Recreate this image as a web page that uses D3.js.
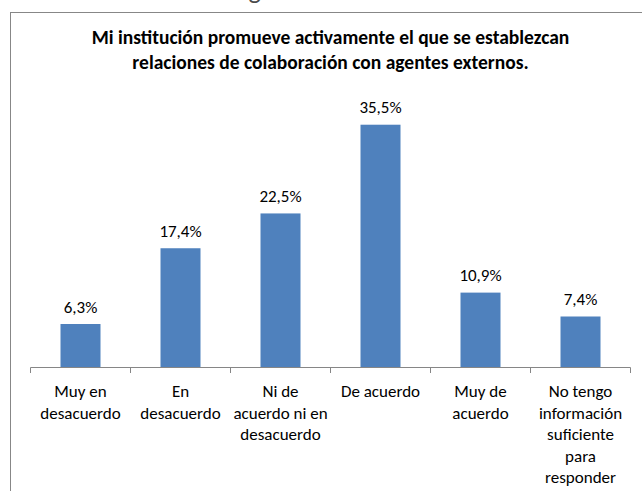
<!DOCTYPE html>
<html><head><meta charset="utf-8">
<script src="https://cdn.jsdelivr.net/npm/d3@7"></script>
<style>
body{margin:0;background:#fff;}
svg{display:block;font-family:Carlito,Lato,"Noto Sans",sans-serif;}
</style></head>
<body><svg id="c" width="642" height="491"></svg>
<script>
const categories = [
  ["Muy en","desacuerdo"],
  ["En","desacuerdo"],
  ["Ni de","acuerdo ni en","desacuerdo"],
  ["De acuerdo"],
  ["Muy de","acuerdo"],
  ["No tengo","información","suficiente","para","responder"]
];
const values = [6.3, 17.4, 22.5, 35.5, 10.9, 7.4];
const titleLines = ["Mi institución promueve activamente el que se establezcan","relaciones de colaboración con agentes externos."];
const topCutText = "colaboración con agentes externos.";

const svg = d3.select("#c");
const fmt = v => v.toFixed(1).replace(".", ",") + "%";

// cut-off text above chart (only its lowest edge is visible in the reference)
const cutText = svg.append("text").attr("x", 0).attr("y", -0.8).attr("font-size", 26)
  .attr("fill", "#4a4a4a").text(topCutText);
{
  const probe = svg.append("text").attr("font-size", 26).attr("xml:space", "preserve").text("colaboración ");
  const w = probe.node().getComputedTextLength();
  probe.remove();
  cutText.attr("x", 192 - w);
}

// chart border
svg.append("rect").attr("x", 10.5).attr("y", 12.5).attr("width", 700).attr("height", 600)
  .attr("fill", "#fff").attr("stroke", "#878787").attr("stroke-width", 1);

const x = d3.scaleBand().domain(d3.range(categories.length)).range([30.5, 630.5]).paddingInner(0.6).paddingOuter(0.3);
const y = d3.scaleLinear().domain([0, 40]).range([367, 94]);

// title
const t = svg.append("text").attr("text-anchor", "middle").attr("font-weight", "bold")
  .attr("font-size", 19.5).attr("fill", "#000");
titleLines.forEach((l, i) => t.append("tspan").attr("x", 330.5).attr("y", 44 + i * 25).text(l));

// bars
svg.selectAll("rect.bar").data(values).join("rect").attr("class", "bar")
  .attr("x", (d, i) => x(i)).attr("width", x.bandwidth())
  .attr("y", d => y(d)).attr("height", d => y(0) - y(d))
  .attr("fill", "#4f81bd");

// value labels
svg.selectAll("text.val").data(values).join("text").attr("class", "val")
  .attr("x", (d, i) => x(i) + x.bandwidth() / 2).attr("y", d => y(d) - 11.5)
  .attr("text-anchor", "middle").attr("font-size", 17).attr("fill", "#000").text(fmt);

// axis
const step = 600 / categories.length;
svg.append("line").attr("x1", 30.5).attr("x2", 630.5).attr("y1", 367.5).attr("y2", 367.5)
  .attr("stroke", "#868686");
d3.range(categories.length + 1).forEach(i => {
  const xx = Math.round(30 + i * step) + 0.5;
  svg.append("line").attr("x1", xx).attr("x2", xx).attr("y1", 367.5).attr("y2", 373)
    .attr("stroke", "#868686");
});

// category labels
categories.forEach((lines, i) => {
  const tx = svg.append("text").attr("text-anchor", "middle").attr("font-size", 17).attr("fill", "#000");
  lines.forEach((l, j) => tx.append("tspan").attr("x", x(i) + x.bandwidth() / 2).attr("y", 397 + j * 21.5).text(l));
});
</script></body></html>
